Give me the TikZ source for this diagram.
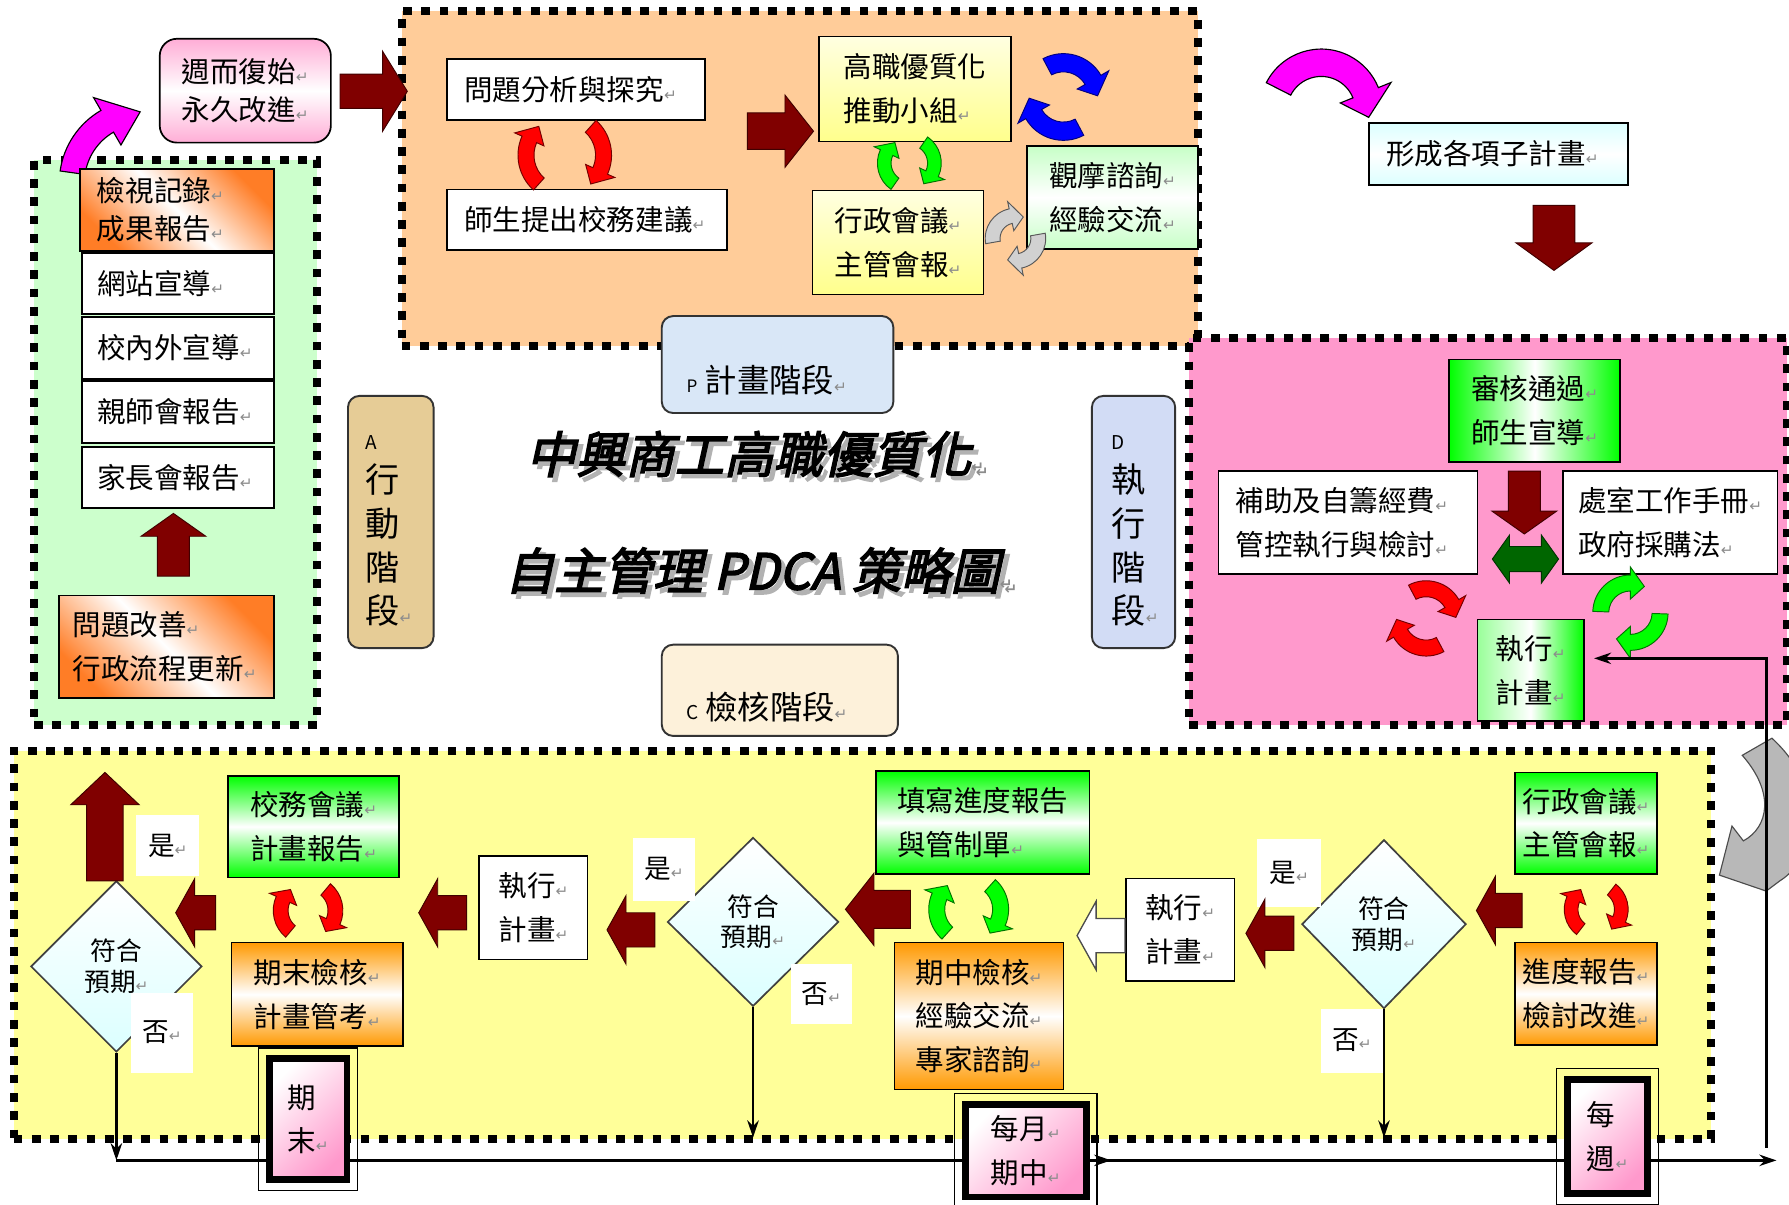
\documentclass[tikz,border=0pt]{standalone}
\usepackage{fontspec}
\setmainfont{Noto Sans CJK TC}
\newfontfamily\retfont{DejaVu Sans}
\newfontfamily\titlefont[FakeSlant=0.22,AutoFakeBold=3]{Noto Sans CJK TC}
\usetikzlibrary{shapes.geometric,calc,arrows.meta}
\definecolor{zgreen}{HTML}{CCFFCC}
\definecolor{zorange}{HTML}{FFCC99}
\definecolor{zpink}{HTML}{FF99CC}
\definecolor{zyellow}{HTML}{FFFF99}
\definecolor{dkred}{HTML}{800000}
\definecolor{dkgreen}{HTML}{006600}
\definecolor{mag}{HTML}{FF00FF}
\definecolor{orgd}{HTML}{FF6600}
\definecolor{orgv}{HTML}{FF9900}
\definecolor{pinkt}{HTML}{FF99CC}
\definecolor{tanc}{HTML}{E6CC96}
\definecolor{bluep}{HTML}{D9E7F7}
\definecolor{blued}{HTML}{D2DCF5}
\definecolor{creamc}{HTML}{FDF1DA}
\definecolor{brgreen}{HTML}{00FF00}
\newcommand\fsz[2]{\fontsize{#1}{#2}\selectfont}
\newcommand\rt{{\retfont\color{black!45}\fontsize{8}{8}\selectfont ↵}}
% bent (curved) block arrow: style, centre, radius, half band, start angle, end angle, tip angle, half head
\newcommand\bentarr[8]{%
  \pgfmathsetmacro\bRo{#3+#4}\pgfmathsetmacro\bRi{#3-#4}%
  \pgfmathsetmacro\bHo{#3+#8}\pgfmathsetmacro\bHi{#3-#8}%
  \filldraw[#1, shift={#2}] (#5:\bRo) arc[start angle=#5,end angle=#6,radius=\bRo]
    -- (#6:\bHo) -- (#7:#3) -- (#6:\bHi) -- (#6:\bRi)
    arc[start angle=#6,end angle=#5,radius=\bRi] -- cycle;}
% pair of cycle arrows: style, centre, radius, half band, base angle, half span, head angle
\newcommand\cyc[7]{%
  \pgfmathsetmacro\cA{#5+180-#6}\pgfmathsetmacro\cB{#5+180+#6-#7}\pgfmathsetmacro\cT{#5+180+#6}%
  \bentarr{#1}{#2}{#3}{#4}{\cA}{\cB}{\cT}{2*#4}%
  \pgfmathsetmacro\cA{#5-#6}\pgfmathsetmacro\cB{#5+#6-#7}\pgfmathsetmacro\cT{#5+#6}%
  \bentarr{#1}{#2}{#3}{#4}{\cA}{\cB}{\cT}{2*#4}}
% straight block arrow: style, from, to, half shaft, half head, head length
\newcommand\barrow[6]{%
  \coordinate (baB) at ($(#3)!#6!(#2)$);
  \filldraw[#1] ($(#2)!#4!90:(#3)$) -- ($(baB)!#4!90:(#3)$) -- ($(baB)!#5!90:(#3)$) -- (#3)
    -- ($(baB)!#5!-90:(#3)$) -- ($(baB)!#4!-90:(#3)$) -- ($(#2)!#4!-90:(#3)$) -- cycle;}
\newcommand\dbarrow[6]{%
  \coordinate (baB) at ($(#3)!#6!(#2)$);
  \coordinate (baA) at ($(#2)!#6!(#3)$);
  \filldraw[#1] (#2) -- ($(baA)!#5!90:(#3)$) -- ($(baA)!#4!90:(#3)$) -- ($(baB)!#4!90:(#3)$)
    -- ($(baB)!#5!90:(#3)$) -- (#3) -- ($(baB)!#5!-90:(#3)$) -- ($(baB)!#4!-90:(#3)$)
    -- ($(baA)!#4!-90:(#3)$) -- ($(baA)!#5!-90:(#3)$) -- cycle;}
\tikzset{
  sz/.style 2 args={minimum width=#1*0.6pt, minimum height=#2*0.6pt},
  lt/.style 2 args={text width=#1, inner xsep=#2},
  zone/.style={draw=black, line width=4.2pt, dash pattern=on 4.6pt off 5pt, inner sep=0pt},
  box/.style={draw=black, line width=0.9pt, align=left, inner sep=0pt, font=\fsz{15}{23}},
  stage/.style={draw=black!80, line width=1pt, rounded corners=6pt, inner sep=0pt},
  dia/.style={diamond, draw=black!75, line width=0.9pt, aspect=1, inner sep=0pt,
    top color=white, bottom color=cyan!14, align=center, font=\fsz{13.5}{16}},
  yn/.style={fill=white, inner sep=0pt, font=\fsz{14}{16}},
  timebox/.style={draw=black, line width=3.5pt, top color=white, bottom color=pinkt,
    shading angle=45, align=left, inner sep=0pt, font=\fsz{15}{23}},
  conn/.style={draw=black, line width=1.4pt, -{Stealth[length=9pt,width=6pt]}},
  plain/.style={draw=black, line width=1.4pt},
  blk/.style={fill=dkred, draw=black!50!dkred, line width=0.5pt},
  hollow/.style={fill=white, draw=black!70, line width=0.7pt},
  dgr/.style={fill=dkgreen, draw=black!50!dkgreen, line width=0.5pt},
  magarr/.style={fill=mag, draw=black, line width=0.6pt},
  cred/.style={fill=red, draw=black!55!red, line width=0.5pt},
  cgreen/.style={fill=brgreen, draw=black!55!green, line width=0.5pt},
  cblue/.style={fill=blue, draw=black!50!blue, line width=0.5pt},
  cgray/.style={fill=black!18, draw=black!65, line width=0.5pt},
  gOrDiag/.style={top color=orgd!85, bottom color=orgd!85, middle color=white, shading angle=-45},
  gOrV/.style={top color=orgv, bottom color=orgv, middle color=white},
  gGrV/.style={top color=brgreen, bottom color=brgreen, middle color=white},
  gGrH/.style={left color=brgreen, right color=brgreen, middle color=white},
  gGrX/.style={left color=brgreen!40, right color=brgreen, middle color=white},
  gYel/.style={top color=yellow!12, bottom color=yellow!45},
  gLtGr/.style={top color=brgreen!22, bottom color=brgreen!22, middle color=white},
  gCyan/.style={top color=cyan!14, bottom color=cyan!14, middle color=white},
  gPinkV/.style={top color=pinkt!80, bottom color=pinkt!80, middle color=white},
  ttl/.style={font=\titlefont\bfseries\fsz{26}{30}, inner sep=0pt},
}
\begin{document}
\begin{tikzpicture}[x=0.6pt,y=-0.6pt]
\useasboundingbox (0,0) rectangle (1568,1056);
\clip (0,0) rectangle (1568,1056);
\fill[white] (0,0) rectangle (1568,1056);

% ---------- zones ----------
\node[zone, fill=zgreen, sz={248}{495}] (zA) at (154,387.5) {};
\node[zone, fill=zorange, sz={698}{293}] (zP) at (701,156.5) {};
\node[zone, fill=zpink, sz={524}{339}] (zD) at (1304,465.5) {};
\node[zone, fill=zyellow, sz={1488}{340}] (zC) at (756,828) {};

% ---------- curved arrows ----------
\bentarr{magarr}{(125,160)}{62}{11}{188}{240}{268}{24}
\bentarr{magarr}{(1158,97)}{42}{12}{207}{338}{368}{24}
\filldraw[fill=black!28, draw=black!70, line width=0.6pt]
  (1527,662) -- (1553,647) .. controls (1600,690) and (1595,750) .. (1560,772)
  -- (1548,781) -- (1507,767) -- (1518,724) -- (1528,737)
  .. controls (1550,725) and (1556,695) .. (1527,662) -- cycle;

% ---------- A zone ----------
\node[box, gPinkV, rounded corners=9pt, sz={150}{91}, font=\fsz{15}{20}] (loop) at (215,79.5) {週而復始\rt\\永久改進\rt};
\node[box, gOrDiag, sz={170}{72}, lt={84pt}{9pt}, font=\fsz{15}{20}] (review) at (155,184) {檢視記錄\rt\\成果報告\rt};
\node[box, fill=white, sz={168}{53}, lt={84.8pt}{8pt}] (web) at (156,248.5) {網站宣導\rt};
\node[box, fill=white, sz={168}{54}, lt={84.8pt}{8pt}] (promo) at (156,305) {校內外宣導\rt};
\node[box, fill=white, sz={168}{54}, lt={84.8pt}{8pt}] (ptm) at (156,361) {親師會報告\rt};
\node[box, fill=white, sz={168}{53}, lt={84.8pt}{8pt}] (parent) at (156,418.5) {家長會報告\rt};
\node[box, gOrDiag, sz={188}{90}, lt={98.8pt}{7pt}] (improve) at (146,567) {問題改善\rt\\行政流程更新\rt};

% ---------- stage boxes ----------
\node[stage, fill=tanc, sz={75}{221}] (stA) at (342.5,457.5) {};
\node[anchor=north west, align=left, inner sep=0pt, font=\fsz{18}{23}] (stAt) at (320,381) {{\fsz{10}{12}A}\\行\\動\\階\\段\rt};
\node[stage, fill=blued, sz={73}{221}] (stD) at (993.5,457.5) {};
\node[anchor=north west, align=left, inner sep=0pt, font=\fsz{18}{23}] (stDt) at (974,381) {{\fsz{10}{12}D}\\執\\行\\階\\段\rt};
\node[stage, fill=bluep, sz={203}{85}] (stP) at (681.5,319.5) {};
\node[inner sep=0pt, font=\fsz{17}{20}] (stPt) at (672,333) {{\fsz{9}{10}P} 計畫階段\rt};
\node[stage, fill=creamc, sz={207}{80}] (stC) at (683.5,605) {};
\node[inner sep=0pt, font=\fsz{17}{20}] (stCt) at (672,620) {{\fsz{10}{10}C} 檢核階段\rt};

% ---------- title ----------
\node[ttl, text=black!30] (t1s) at (666,402) {中興商工高職優質化\rt};
\node[ttl] (t1) at (662,398) {中興商工高職優質化\rt};
\node[ttl, text=black!30] (t2s) at (669,504) {自主管理 PDCA 策略圖\rt};
\node[ttl] (t2) at (665,500) {自主管理 PDCA 策略圖\rt};

% ---------- P zone ----------
\node[box, fill=white, sz={226}{53}, lt={117.6pt}{9pt}] (prob) at (505,78.5) {問題分析與探究\rt};
\node[box, fill=white, sz={245}{53}, lt={129pt}{9pt}] (sugg) at (514.5,192.5) {師生提出校務建議\rt};
\node[box, gYel, sz={168}{92}] (team) at (802,78) {高職優質化\\推動小組\rt};
\node[box, gYel, sz={150}{91}] (admin) at (787,212.5) {行政會議\rt\\主管會報\rt};
\node[box, gLtGr, sz={150}{90}] (visit) at (975,173) {觀摩諮詢\rt\\經驗交流\rt};
\node[box, gCyan, sz={227}{54}, lt={118.2pt}{9pt}] (subplan) at (1313.5,135) {形成各項子計畫\rt};

% ---------- D zone ----------
\node[box, gGrH, sz={150}{90}] (approve) at (1345,360) {審核通過\rt\\師生宣導\rt};
\node[box, fill=white, sz={227}{90}, lt={118.2pt}{9pt}] (fund) at (1181.5,458) {補助及自籌經費\rt\\管控執行與檢討\rt};
\node[box, fill=white, sz={188}{90}, lt={96.8pt}{8pt}] (manual) at (1464,458) {處室工作手冊\rt\\政府採購法\rt};
\node[box, gGrX, sz={93}{89}] (exec) at (1341.5,587.5) {執行\rt\\計畫\rt};

% ---------- C zone ----------
\node[box, gGrV, sz={124}{89}] (admin2) at (1390,721.5) {行政會議\rt\\主管會報\rt};
\node[box, gOrV, sz={124}{90}] (prog) at (1390,871) {進度報告\rt\\檢討改進\rt};
\node[dia, sz={144}{148}] (dR) at (1213,810) {符合\\預期\rt};
\node[box, fill=white, sz={95}{90}] (exec2) at (1034.5,815) {執行\rt\\計畫\rt};
\node[box, gGrV, sz={187}{90}] (fillrep) at (861.5,721) {填寫進度報告\\與管制單\rt};
\node[box, gOrV, sz={148}{129}] (midchk) at (858,890.5) {期中檢核\rt\\經驗交流\rt\\專家諮詢\rt};
\node[dia, sz={150}{148}] (dM) at (660,808) {符合\\預期\rt};
\node[box, fill=white, sz={95}{91}] (exec3) at (467.5,795.5) {執行\rt\\計畫\rt};
\node[box, gGrV, sz={150}{89}] (council) at (275,724.5) {校務會議\rt\\計畫報告\rt};
\node[box, gOrV, sz={150}{91}] (final) at (278,871.5) {期末檢核\rt\\計畫管考\rt};
\node[dia, sz={150}{150}] (dL) at (102,847) {符合\\預期\rt};
\node[yn, sz={56}{60}] (yesR) at (1130,765) {是\rt};
\node[yn, sz={55}{56}] (noR) at (1185,912) {否\rt};
\node[yn, sz={55}{55}] (yesM) at (582,762) {是\rt};
\node[yn, sz={54}{53}] (noM) at (720,871) {否\rt};
\node[yn, sz={55}{54}] (yesL) at (147,741) {是\rt};
\node[yn, sz={55}{70}] (noL) at (142,905) {否\rt};

% ---------- cycle arrows ----------
\cyc{cred}{(495,136)}{34}{7}{0}{48}{24}
\cyc{cgreen}{(797,143)}{22}{6}{0}{55}{30}
\cyc{cblue}{(932,85)}{30}{8}{-60}{58}{28}
\cyc{cgray}{(890,209)}{20}{6.5}{50}{60}{32}
\cyc{cred}{(1250,542)}{26}{7}{-60}{58}{28}
\cyc{cgreen}{(1429,537)}{26}{7}{60}{58}{28}
\cyc{cred}{(270,798)}{24}{6.5}{0}{50}{26}
\cyc{cgreen}{(849,797)}{28}{7}{0}{48}{24}
\cyc{cred}{(1399,797)}{22}{6}{0}{52}{28}

% ---------- block arrows ----------
\coordinate (a1s) at (298,80);   \coordinate (a1e) at (357,80);
\coordinate (a2s) at (655,115);  \coordinate (a2e) at (713,115);
\coordinate (a3s) at (1362,180); \coordinate (a3e) at (1362,237);
\coordinate (a4s) at (1336,413); \coordinate (a4e) at (1336,468);
\coordinate (a5s) at (1308,490); \coordinate (a5e) at (1366,490);
\coordinate (a6s) at (152,505);  \coordinate (a6e) at (152,450);
\coordinate (a7s) at (92,772);   \coordinate (a7e) at (92,677);
\coordinate (a8s) at (189,800);  \coordinate (a8e) at (154,800);
\coordinate (a9s) at (409,800);  \coordinate (a9e) at (367,800);
\coordinate (a10s) at (574,815); \coordinate (a10e) at (532,815);
\coordinate (a11s) at (798,797); \coordinate (a11e) at (741,797);
\coordinate (a12s) at (986,820); \coordinate (a12e) at (944,820);
\coordinate (a13s) at (1134,818);\coordinate (a13e) at (1092,818);
\coordinate (a14s) at (1334,798);\coordinate (a14e) at (1294,798);
\barrow{blk}{a1s}{a1e}{9pt}{21pt}{13pt}
\barrow{blk}{a2s}{a2e}{9.6pt}{19pt}{15pt}
\barrow{blk}{a3s}{a3e}{11pt}{20pt}{14.5pt}
\barrow{blk}{a4s}{a4e}{8.4pt}{17pt}{12pt}
\dbarrow{dgr}{a5s}{a5e}{6.6pt}{12.6pt}{9pt}
\barrow{blk}{a6s}{a6e}{8.4pt}{17pt}{12pt}
\barrow{blk}{a7s}{a7e}{9.6pt}{18pt}{17pt}
\barrow{blk}{a8s}{a8e}{9pt}{18pt}{10pt}
\barrow{blk}{a9s}{a9e}{9pt}{18pt}{10pt}
\barrow{blk}{a10s}{a10e}{9pt}{18pt}{10pt}
\barrow{blk}{a11s}{a11e}{10pt}{19pt}{15pt}
\barrow{hollow}{a12s}{a12e}{9pt}{18pt}{10pt}
\barrow{blk}{a13s}{a13e}{9pt}{18pt}{10pt}
\barrow{blk}{a14s}{a14e}{9pt}{18pt}{10pt}

% ---------- thin connectors ----------
\coordinate (cornerL) at (102,1017);
\coordinate (midTip) at (974,1017);
\coordinate (endR) at (1557,1017);
\coordinate (dMend) at (660,997);
\coordinate (dRend) at (1213,997);
\coordinate (retB) at (1548,1006);
\coordinate (retT) at (1548,577);
\draw[conn] (dL.south) -- (cornerL);
\draw[conn] (dM.south) -- (dMend);
\draw[conn] (dR.south) -- (dRend);
\draw[plain] (cornerL) -- (midTip);
\draw[conn] (midTip) -- (endR);
\draw[conn, shorten >=5pt] (retB) -- (retT) -- (retT -| exec.east);
\draw[conn] (899,1017) -- (midTip);

% ---------- time boxes ----------
\node[timebox, sz={68}{106}] (tEnd) at (270,981) {期\\末\rt};
\node[timebox, sz={106}{81}] (tMid) at (899,1008.5) {每月\rt\\期中\rt};
\node[timebox, sz={70}{100}] (tWeek) at (1409,996) {每\\週\rt};
\foreach \n in {tEnd,tMid,tWeek}{
  \draw[line width=0.7pt] ([shift={(-4pt,4pt)}]\n.north west) rectangle ([shift={(4pt,-4pt)}]\n.south east);}
\end{tikzpicture}
\end{document}
